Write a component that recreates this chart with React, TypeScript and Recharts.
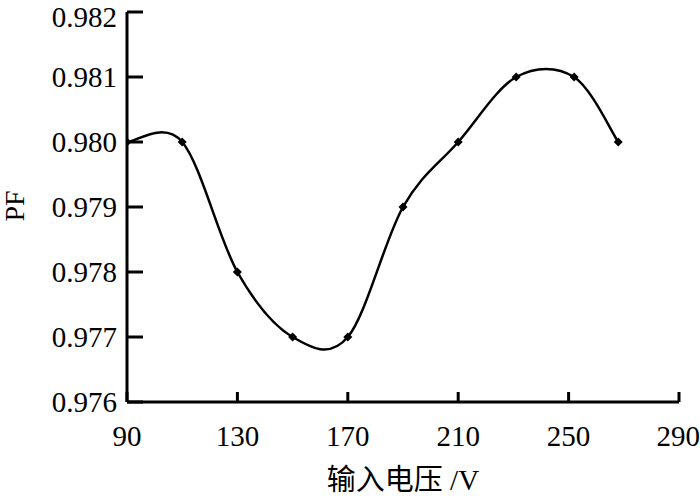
import { LineChart, Line, XAxis, YAxis } from 'recharts';

const voltages = [90, 110, 130, 150, 170, 190, 210, 231, 252, 268];
const pfValues = [0.98, 0.98, 0.978, 0.977, 0.977, 0.979, 0.98, 0.981, 0.981, 0.98];
const xTicks = [90, 130, 170, 210, 250, 290];
const yTicks = [0.976, 0.977, 0.978, 0.979, 0.98, 0.981, 0.982];

const data = voltages.map((v, i) => ({ v, pf: pfValues[i] }));

const serif = '"Liberation Serif", "Times New Roman", serif';
const cjk = '"Liberation Serif", "Noto Sans CJK SC", serif';

// spreadsheet-style smoothed line (Catmull-Rom as bezier segments)
function smoothCurve(context: any) {
  let pts: [number, number][] = [];
  return {
    areaStart() {},
    areaEnd() {},
    lineStart() {
      pts = [];
    },
    point(x: number, y: number) {
      pts.push([+x, +y]);
    },
    lineEnd() {
      if (!pts.length) return;
      context.moveTo(pts[0][0], pts[0][1]);
      for (let i = 0; i < pts.length - 1; i++) {
        const p0 = pts[Math.max(i - 1, 0)];
        const p1 = pts[i];
        const p2 = pts[i + 1];
        const p3 = pts[Math.min(i + 2, pts.length - 1)];
        context.bezierCurveTo(
          p1[0] + (p2[0] - p0[0]) / 6,
          p1[1] + (p2[1] - p0[1]) / 6,
          p2[0] - (p3[0] - p1[0]) / 6,
          p2[1] - (p3[1] - p1[1]) / 6,
          p2[0],
          p2[1]
        );
      }
    },
  };
}

function Diamond(props: any) {
  const { cx, cy } = props;
  if (cx == null || cy == null) return null;
  const r = 4.5;
  return (
    <polygon
      points={`${cx},${cy - r} ${cx + r},${cy} ${cx},${cy + r} ${cx - r},${cy}`}
      fill="#000"
    />
  );
}

function PfTitle() {
  return (
    <text
      x={14}
      y={206}
      transform="rotate(-90 14 206)"
      textAnchor="middle"
      dominantBaseline="central"
      fontFamily={serif}
      fontSize={28}
      fill="#000"
    >
      PF
    </text>
  );
}

function VoltTitle() {
  return (
    <text x={403} y={480} textAnchor="middle" dominantBaseline="central" fontFamily={cjk} fontSize={29} fill="#000">
      输入电压 /V
    </text>
  );
}

export default function App() {
  const tickStyle = { fill: '#000', fontSize: 29, fontFamily: serif };
  return (
    <div style={{ position: 'absolute', left: 0, top: 0, width: 700, height: 496, background: '#fff' }}>
      <LineChart width={700} height={496} data={data} margin={{ top: 12, right: 21, left: 0, bottom: 0 }}>
        <XAxis
          dataKey="v"
          type="number"
          domain={[90, 290]}
          ticks={xTicks}
          allowDataOverflow
          height={94}
          tickSize={-10}
          tickMargin={33}
          tick={tickStyle}
          stroke="#000"
          strokeWidth={3}
          label={<VoltTitle />}
        />
        <YAxis
          type="number"
          domain={[0.976, 0.982]}
          ticks={yTicks}
          width={127}
          tickSize={-16}
          tickMargin={26}
          tick={tickStyle}
          tickFormatter={(t: number) => t.toFixed(3)}
          stroke="#000"
          strokeWidth={3}
          label={<PfTitle />}
        />
        <Line
          type={smoothCurve as any}
          dataKey="pf"
          stroke="#000"
          strokeWidth={2.5}
          dot={<Diamond />}
          activeDot={false}
          isAnimationActive={false}
        />
      </LineChart>
    </div>
  );
}
